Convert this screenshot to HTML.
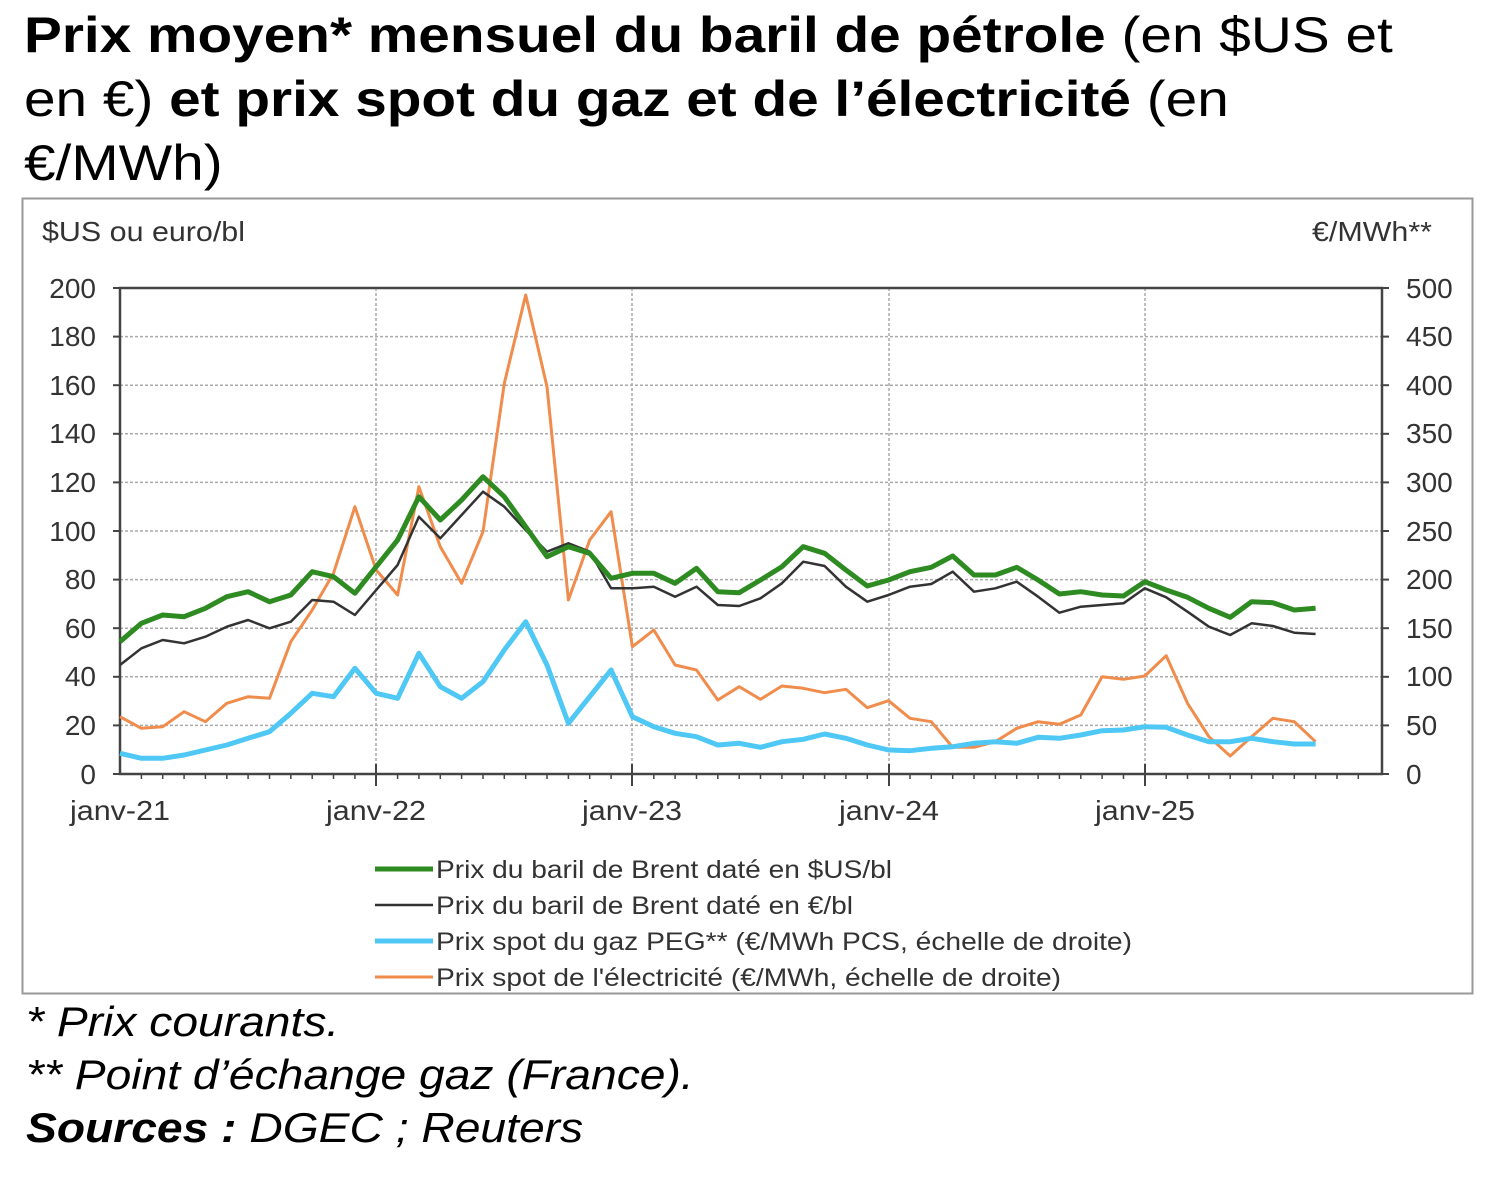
<!DOCTYPE html>
<html><head><meta charset="utf-8"><style>
body{margin:0;background:#fff;width:1486px;height:1179px;overflow:hidden;font-family:"Liberation Sans",Arial,sans-serif;}
.t{position:absolute;left:24px;top:3px;font-size:50px;line-height:64px;color:#000;width:1300px;transform:scaleX(1.135);transform-origin:0 0;}
.f{position:absolute;left:26px;font-size:42px;font-style:italic;color:#000;transform:scaleX(1.1);transform-origin:0 0;white-space:nowrap;}
</style></head><body>
<div class="t"><b>Prix moyen* mensuel du baril de pétrole</b> (en $US et<br>en €) <b>et prix spot du gaz et de l’électricité</b> (en<br>€/MWh)</div>
<svg style="position:absolute;left:0;top:0" width="1486" height="1179" font-family="Liberation Sans, Arial, sans-serif">
<rect x="22.5" y="198.5" width="1450" height="795" fill="none" stroke="#999" stroke-width="2"/>
<g stroke="#aaa" stroke-width="1.5" stroke-dasharray="3,2">
<line x1="120" x2="1382" y1="336.6" y2="336.6"/><line x1="120" x2="1382" y1="385.2" y2="385.2"/><line x1="120" x2="1382" y1="433.8" y2="433.8"/><line x1="120" x2="1382" y1="482.4" y2="482.4"/><line x1="120" x2="1382" y1="531" y2="531"/><line x1="120" x2="1382" y1="579.6" y2="579.6"/><line x1="120" x2="1382" y1="628.2" y2="628.2"/><line x1="120" x2="1382" y1="676.8" y2="676.8"/><line x1="120" x2="1382" y1="725.4" y2="725.4"/>
<line x1="376" x2="376" y1="288" y2="774"/><line x1="632" x2="632" y1="288" y2="774"/><line x1="889" x2="889" y1="288" y2="774"/><line x1="1145" x2="1145" y1="288" y2="774"/>
</g>
<rect x="120" y="288" width="1262" height="486" fill="none" stroke="#444" stroke-width="2.5"/>
<g stroke="#444" stroke-width="2">
<line x1="113" x2="120" y1="288" y2="288"/><line x1="113" x2="120" y1="336.6" y2="336.6"/><line x1="113" x2="120" y1="385.2" y2="385.2"/><line x1="113" x2="120" y1="433.8" y2="433.8"/><line x1="113" x2="120" y1="482.4" y2="482.4"/><line x1="113" x2="120" y1="531" y2="531"/><line x1="113" x2="120" y1="579.6" y2="579.6"/><line x1="113" x2="120" y1="628.2" y2="628.2"/><line x1="113" x2="120" y1="676.8" y2="676.8"/><line x1="113" x2="120" y1="725.4" y2="725.4"/><line x1="113" x2="120" y1="774" y2="774"/>
<line x1="1382" x2="1389" y1="288" y2="288"/><line x1="1382" x2="1389" y1="336.6" y2="336.6"/><line x1="1382" x2="1389" y1="385.2" y2="385.2"/><line x1="1382" x2="1389" y1="433.8" y2="433.8"/><line x1="1382" x2="1389" y1="482.4" y2="482.4"/><line x1="1382" x2="1389" y1="531" y2="531"/><line x1="1382" x2="1389" y1="579.6" y2="579.6"/><line x1="1382" x2="1389" y1="628.2" y2="628.2"/><line x1="1382" x2="1389" y1="676.8" y2="676.8"/><line x1="1382" x2="1389" y1="725.4" y2="725.4"/><line x1="1382" x2="1389" y1="774" y2="774"/>
<line x1="376" x2="376" y1="764" y2="786"/><line x1="632" x2="632" y1="764" y2="786"/><line x1="889" x2="889" y1="764" y2="786"/><line x1="1145" x2="1145" y1="764" y2="786"/>
</g>
<path stroke="#444" stroke-width="1.5" d="M141.4 774v5M162.7 774v5M184.1 774v5M205.4 774v5M226.8 774v5M248.1 774v5M269.5 774v5M290.8 774v5M312.2 774v5M333.5 774v5M354.9 774v5M397.6 774v5M418.9 774v5M440.3 774v5M461.6 774v5M483 774v5M504.3 774v5M525.7 774v5M547 774v5M568.4 774v5M589.7 774v5M611.1 774v5M653.8 774v5M675.1 774v5M696.5 774v5M717.8 774v5M739.2 774v5M760.5 774v5M781.9 774v5M803.2 774v5M824.6 774v5M845.9 774v5M867.3 774v5M910 774v5M931.3 774v5M952.7 774v5M974 774v5M995.4 774v5M1016.7 774v5M1038.1 774v5M1059.4 774v5M1080.8 774v5M1102.1 774v5M1123.5 774v5M1166.2 774v5M1187.5 774v5M1208.9 774v5M1230.2 774v5M1251.6 774v5M1272.9 774v5M1294.3 774v5M1315.6 774v5M1337 774v5M1358.3 774v5"/>
<g font-size="28" fill="#333">
<text x="42" y="241" textLength="203" lengthAdjust="spacingAndGlyphs">$US ou euro/bl</text>
<text x="1312" y="241" textLength="120" lengthAdjust="spacingAndGlyphs">€/MWh**</text>
<g text-anchor="end">
<text x="96" y="298">200</text><text x="96" y="346">180</text><text x="96" y="395">160</text><text x="96" y="443">140</text><text x="96" y="492">120</text><text x="96" y="541">100</text><text x="96" y="589">80</text><text x="96" y="638">60</text><text x="96" y="686">40</text><text x="96" y="735">20</text><text x="96" y="784">0</text>
</g>
<text x="1406" y="298">500</text><text x="1406" y="346">450</text><text x="1406" y="395">400</text><text x="1406" y="443">350</text><text x="1406" y="492">300</text><text x="1406" y="541">250</text><text x="1406" y="589">200</text><text x="1406" y="638">150</text><text x="1406" y="686">100</text><text x="1406" y="735">50</text><text x="1406" y="784">0</text>
<text x="70" y="820" textLength="100" lengthAdjust="spacingAndGlyphs">janv-21</text><text x="326" y="820" textLength="100" lengthAdjust="spacingAndGlyphs">janv-22</text><text x="582" y="820" textLength="100" lengthAdjust="spacingAndGlyphs">janv-23</text><text x="839" y="820" textLength="100" lengthAdjust="spacingAndGlyphs">janv-24</text><text x="1095" y="820" textLength="100" lengthAdjust="spacingAndGlyphs">janv-25</text>
</g>
<g fill="none" stroke-linejoin="round">
<polyline stroke="#f08c4c" stroke-width="3" points="120,716.7 141.4,728.3 162.7,726.7 184.1,711.7 205.4,721.7 226.8,703.3 248.1,696.7 269.5,698.3 290.8,641.7 312.2,610 333.5,573.3 354.9,506.7 376.2,570 397.6,595 418.9,486.7 440.3,546.7 461.6,583.3 483,531.7 504.3,383.3 525.7,295 547,386.7 568.4,600 589.7,540 611.1,511.7 632.4,646.7 653.8,630 675.1,665 696.5,670 717.8,700 739.2,686.7 760.5,699.3 781.9,686 803.2,688.3 824.6,692.7 845.9,689.3 867.3,707.7 888.6,700.7 910,718.3 931.3,721.7 952.7,747.3 974,747.3 995.4,741.7 1016.7,728.3 1038.1,721.7 1059.4,724.3 1080.8,715 1102.1,676.7 1123.5,679.3 1144.8,676 1166.2,655.7 1187.5,703.3 1208.9,736.7 1230.2,756 1251.6,736.7 1272.9,718.3 1294.3,721.7 1315.6,741.7"/>
<polyline stroke="#4fc8f5" stroke-width="5" points="120,753.3 141.4,758.3 162.7,758.3 184.1,755 205.4,750 226.8,745 248.1,738.3 269.5,731.7 290.8,713.3 312.2,693.3 333.5,696.7 354.9,668.3 376.2,693.3 397.6,698.3 418.9,653.3 440.3,686.7 461.6,698.3 483,681.7 504.3,650 525.7,621.7 547,665 568.4,723.3 589.7,696.7 611.1,670 632.4,716.7 653.8,726.7 675.1,733.3 696.5,736.7 717.8,745 739.2,743.3 760.5,747.3 781.9,741.7 803.2,739.3 824.6,734 845.9,738.3 867.3,745 888.6,750 910,750.7 931.3,748.3 952.7,746.7 974,743.3 995.4,741.7 1016.7,743.3 1038.1,737.3 1059.4,738.3 1080.8,735 1102.1,730.7 1123.5,730 1144.8,726.7 1166.2,727.3 1187.5,735 1208.9,741.7 1230.2,741.7 1251.6,738.3 1272.9,741.7 1294.3,744 1315.6,744"/>
<polyline stroke="#333" stroke-width="2.5" points="120,665 141.4,648.3 162.7,640 184.1,643.3 205.4,636.7 226.8,626.7 248.1,620 269.5,628.3 290.8,621.7 312.2,600 333.5,601.7 354.9,615 376.2,590 397.6,565 418.9,516.7 440.3,538.3 461.6,515 483,491.7 504.3,506.7 525.7,530 547,551.7 568.4,543.3 589.7,551.7 611.1,588.3 632.4,588.3 653.8,586.7 675.1,596.7 696.5,586.7 717.8,605 739.2,606 760.5,598.3 781.9,583.3 803.2,561.7 824.6,566 845.9,586.7 867.3,601.7 888.6,595 910,586.7 931.3,584 952.7,571.7 974,591.7 995.4,588.3 1016.7,581.7 1038.1,596.7 1059.4,612.7 1080.8,606.7 1102.1,605 1123.5,603.3 1144.8,588.3 1166.2,597.3 1187.5,611.7 1208.9,626.7 1230.2,635 1251.6,623.3 1272.9,626 1294.3,632.7 1315.6,634"/>
<polyline stroke="#2e8b22" stroke-width="5" points="120,641.7 141.4,623.3 162.7,615 184.1,616.7 205.4,608.3 226.8,596.7 248.1,591.7 269.5,601.7 290.8,595 312.2,571.7 333.5,576.7 354.9,593.3 376.2,566.7 397.6,540 418.9,496.7 440.3,520 461.6,500 483,476.7 504.3,496.7 525.7,526.7 547,556.7 568.4,546.7 589.7,553.3 611.1,578.3 632.4,573.3 653.8,573.3 675.1,583.3 696.5,568.3 717.8,591.7 739.2,592.7 760.5,580 781.9,566.7 803.2,546.7 824.6,553.3 845.9,570 867.3,586 888.6,580 910,571.7 931.3,567.3 952.7,556 974,575 995.4,575 1016.7,567.3 1038.1,580 1059.4,594 1080.8,591.7 1102.1,595 1123.5,596 1144.8,581.7 1166.2,590 1187.5,597.3 1208.9,608.3 1230.2,617.3 1251.6,601.7 1272.9,602.7 1294.3,610 1315.6,608.3"/>
</g>
<g font-size="25" fill="#333">
<line x1="375" x2="433" y1="869" y2="869" stroke="#2e8b22" stroke-width="5"/><text x="436" y="878" textLength="456" lengthAdjust="spacingAndGlyphs">Prix du baril de Brent daté en $US/bl</text>
<line x1="375" x2="433" y1="905" y2="905" stroke="#333" stroke-width="2.5"/><text x="436" y="914" textLength="417" lengthAdjust="spacingAndGlyphs">Prix du baril de Brent daté en €/bl</text>
<line x1="375" x2="433" y1="941" y2="941" stroke="#4fc8f5" stroke-width="5"/><text x="436" y="950" textLength="696" lengthAdjust="spacingAndGlyphs">Prix spot du gaz PEG** (€/MWh PCS, échelle de droite)</text>
<line x1="375" x2="433" y1="977" y2="977" stroke="#f08c4c" stroke-width="3"/><text x="436" y="986" textLength="625" lengthAdjust="spacingAndGlyphs">Prix spot de l'électricité (€/MWh, échelle de droite)</text>
</g>
</svg>
<div class="f" style="top:998px">* Prix courants.</div>
<div class="f" style="top:1051px">** Point d’échange gaz (France).</div>
<div class="f" style="top:1104px"><b>Sources :</b> DGEC ; Reuters</div>
</body></html>
